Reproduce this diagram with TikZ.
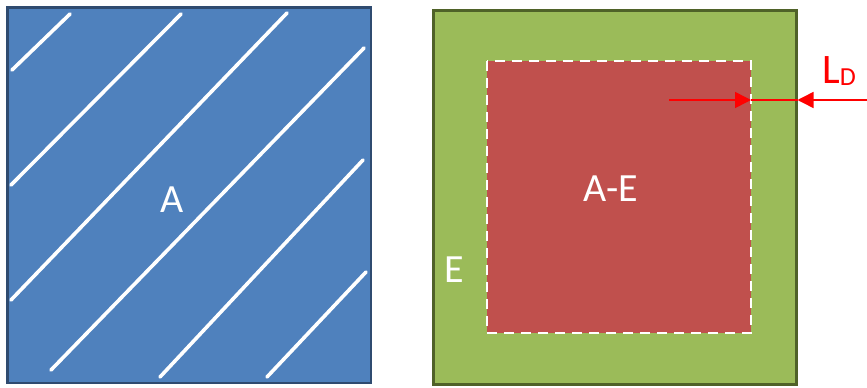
\documentclass[tikz,border=0pt]{standalone}
\usepackage{fontspec}
\setmainfont{Carlito}
\usetikzlibrary{arrows.meta}
\definecolor{bluefill}{HTML}{4F81BD}
\definecolor{blueedge}{HTML}{2F4B70}
\definecolor{greenfill}{HTML}{9BBB59}
\definecolor{greenedge}{HTML}{4F6228}
\definecolor{redfill}{HTML}{C0504D}
\definecolor{arrowred}{HTML}{FF0000}
\tikzset{
  hatch/.style={white, line width=3.6pt, line cap=round},
  dimline/.style={arrowred, line width=1.5pt},
  dimarrow/.style={dimline, -{Triangle[length=16pt,width=16pt]}},
  lbl/.style={white, font=\fontsize{40}{42}\selectfont, inner sep=0pt}
}
\begin{document}
\begin{tikzpicture}[x=1pt,y=-1pt]
\useasboundingbox (0,0) rectangle (867,388);
% left square
\path[fill=bluefill, draw=blueedge, line width=2.5pt] (7.5,7.5) rectangle (371,383) coordinate (lbr);
\coordinate (l1a) at (12,70);  \coordinate (l1b) at (70,14);
\coordinate (l2a) at (11,185); \coordinate (l2b) at (181,14);
\coordinate (l3a) at (11,300); \coordinate (l3b) at (287,13);
\coordinate (l4a) at (51,370); \coordinate (l4b) at (364,48);
\coordinate (l5a) at (160,377);\coordinate (l5b) at (363,160);
\coordinate (l6a) at (267,377);\coordinate (l6b) at (366,272);
\foreach \i in {1,...,6} {\draw[hatch] (l\i a) -- (l\i b);}
\node[lbl] (A) at (172,200) {A};
% right square
\path[fill=greenfill, draw=greenedge, line width=3pt] (433,10) rectangle (796,384);
\path[fill=redfill, draw=white, line width=2.5pt, dash pattern=on 10pt off 7pt] (487,61) rectangle (751,333);
\node[lbl] (AE) at (611,189) {A-E};
\node[lbl] (E) at (454,270) {E};
% dimension arrows
\coordinate (s1) at (669,100); \coordinate (t1) at (751,100);
\coordinate (s2) at (867,100); \coordinate (t2) at (797.5,100);
\draw[dimline] (t1) -- (t2);
\draw[dimarrow] (s1) -- (t1);
\draw[dimarrow] (s2) -- (t2);
\node[arrowred, font=\fontsize{42}{44}\selectfont, inner sep=0pt, anchor=base west] (LD) at (822,83) {L\raisebox{-2pt}{\fontsize{26}{28}\selectfont D}};
\end{tikzpicture}
\end{document}
